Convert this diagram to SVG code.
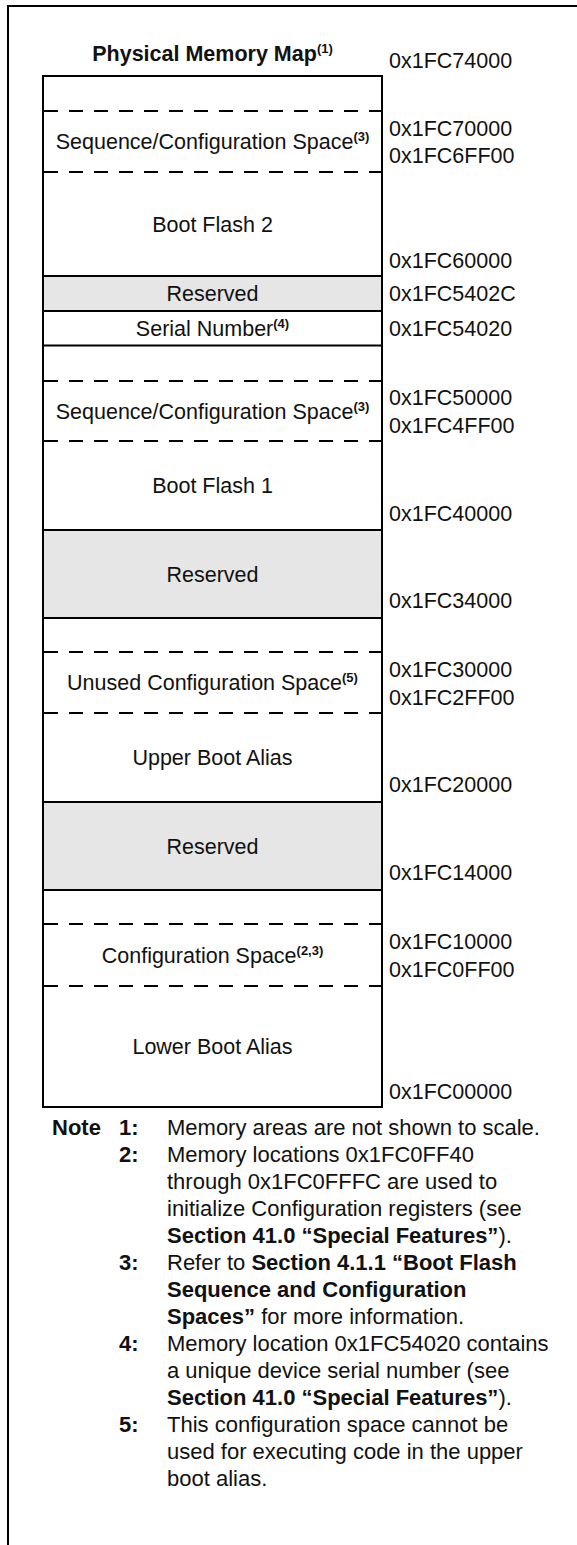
<svg xmlns="http://www.w3.org/2000/svg" width="577" height="1545" viewBox="0 0 577 1545">
<style>
text{font-family:"Liberation Sans",Arial,sans-serif;fill:#111}
.lbl{font-size:21.5px;text-anchor:middle}
.addr{font-size:21.5px}
.title{font-size:21.5px;font-weight:bold;text-anchor:middle}
.sup{font-size:13px;font-weight:bold}
.note{font-size:22px}
.b{font-weight:bold}
.box{fill:#fff;stroke:#000;stroke-width:2}
.res{fill:#e6e6e6;stroke:#000;stroke-width:2}
.dash{stroke:#000;stroke-width:2;stroke-dasharray:14 11;fill:none}
.frame{fill:none;stroke:#000;stroke-width:2}
</style>
<rect width="577" height="1545" fill="#fff"/>
<path class="frame" d="M8,1545 V6 H577"/>
<text class="title" x="212.5" y="61">Physical Memory Map<tspan class="sup" dy="-8">(1)</tspan></text>

<g id="memory-map">
<rect class="box" x="43" y="76" width="339" height="1031"/>
<rect class="res" x="43" y="276" width="339" height="35"/>
<rect class="res" x="43" y="530" width="339" height="88"/>
<rect class="res" x="43" y="802" width="339" height="88"/>
<line class="box" x1="43" y1="345.5" x2="382" y2="345.5"/>
</g>

<g id="connectors">
<line class="dash" x1="44" y1="111" x2="381" y2="111"/>
<line class="dash" x1="44" y1="172" x2="381" y2="172"/>
<line class="dash" x1="44" y1="381" x2="381" y2="381"/>
<line class="dash" x1="44" y1="441" x2="381" y2="441"/>
<line class="dash" x1="44" y1="652" x2="381" y2="652"/>
<line class="dash" x1="44" y1="713" x2="381" y2="713"/>
<line class="dash" x1="44" y1="924" x2="381" y2="924"/>
<line class="dash" x1="44" y1="986" x2="381" y2="986"/>
</g>

<g id="seq-config-2"><text class="lbl" x="212.5" y="149">Sequence/Configuration Space<tspan class="sup" dy="-8">(3)</tspan></text></g>
<g id="boot-flash-2"><text class="lbl" x="212.5" y="231.5">Boot Flash 2</text></g>
<g id="reserved-1"><text class="lbl" x="212.5" y="301">Reserved</text></g>
<g id="serial-number"><text class="lbl" x="212.5" y="335.5">Serial Number<tspan class="sup" dy="-8">(4)</tspan></text></g>
<g id="seq-config-1"><text class="lbl" x="212.5" y="418.5">Sequence/Configuration Space<tspan class="sup" dy="-8">(3)</tspan></text></g>
<g id="boot-flash-1"><text class="lbl" x="212.5" y="493">Boot Flash 1</text></g>
<g id="reserved-2"><text class="lbl" x="212.5" y="581.5">Reserved</text></g>
<g id="unused-config"><text class="lbl" x="212.5" y="690">Unused Configuration Space<tspan class="sup" dy="-8">(5)</tspan></text></g>
<g id="upper-boot-alias"><text class="lbl" x="212.5" y="765">Upper Boot Alias</text></g>
<g id="reserved-3"><text class="lbl" x="212.5" y="853.5">Reserved</text></g>
<g id="config-space"><text class="lbl" x="212.5" y="962.5">Configuration Space<tspan class="sup" dy="-8">(2,3)</tspan></text></g>
<g id="lower-boot-alias"><text class="lbl" x="212.5" y="1054">Lower Boot Alias</text></g>

<g id="addresses">
<text class="addr" x="389" y="68">0x1FC74000</text>
<text class="addr" x="389" y="136">0x1FC70000</text>
<text class="addr" x="389" y="163">0x1FC6FF00</text>
<text class="addr" x="389" y="268">0x1FC60000</text>
<text class="addr" x="389" y="301">0x1FC5402C</text>
<text class="addr" x="389" y="335.5">0x1FC54020</text>
<text class="addr" x="389" y="405">0x1FC50000</text>
<text class="addr" x="389" y="432.5">0x1FC4FF00</text>
<text class="addr" x="389" y="521">0x1FC40000</text>
<text class="addr" x="389" y="608">0x1FC34000</text>
<text class="addr" x="389" y="677">0x1FC30000</text>
<text class="addr" x="389" y="704.5">0x1FC2FF00</text>
<text class="addr" x="389" y="792">0x1FC20000</text>
<text class="addr" x="389" y="880">0x1FC14000</text>
<text class="addr" x="389" y="949">0x1FC10000</text>
<text class="addr" x="389" y="976.5">0x1FC0FF00</text>
<text class="addr" x="389" y="1098.5">0x1FC00000</text>
</g>

<g id="notes" class="note">
<text class="note b" x="52" y="1135">Note</text>
<text class="note b" x="119" y="1135">1:</text>
<text class="note" x="167" y="1135">Memory areas are not shown to scale.</text>
<text class="note b" x="119" y="1162">2:</text>
<text class="note" x="167" y="1162">Memory locations 0x1FC0FF40</text>
<text class="note" x="167" y="1189">through 0x1FC0FFFC are used to</text>
<text class="note" x="167" y="1216">initialize Configuration registers (see</text>
<text class="note" x="167" y="1243"><tspan class="b">Section 41.0 “Special Features”</tspan>).</text>
<text class="note b" x="119" y="1270">3:</text>
<text class="note" x="167" y="1270">Refer to <tspan class="b">Section 4.1.1 “Boot Flash</tspan></text>
<text class="note b" x="167" y="1297">Sequence and Configuration</text>
<text class="note" x="167" y="1324"><tspan class="b">Spaces”</tspan> for more information.</text>
<text class="note b" x="119" y="1351">4:</text>
<text class="note" x="167" y="1351">Memory location 0x1FC54020 contains</text>
<text class="note" x="167" y="1378">a unique device serial number (see</text>
<text class="note" x="167" y="1405"><tspan class="b">Section 41.0 “Special Features”</tspan>).</text>
<text class="note b" x="119" y="1432">5:</text>
<text class="note" x="167" y="1432">This configuration space cannot be</text>
<text class="note" x="167" y="1459">used for executing code in the upper</text>
<text class="note" x="167" y="1486">boot alias.</text>
</g>
</svg>
